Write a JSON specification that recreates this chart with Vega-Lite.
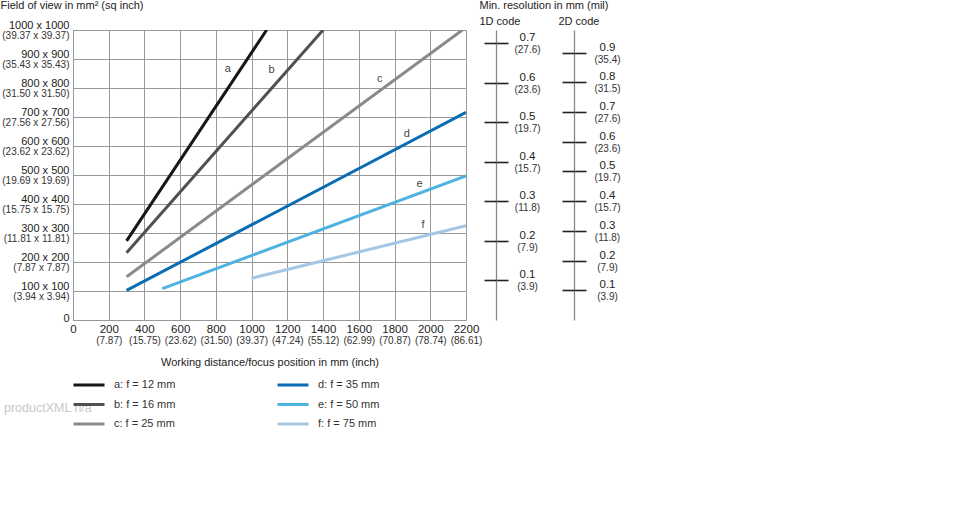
{
  "$schema": "https://vega.github.io/schema/vega-lite/v6.json",
  "width": 393,
  "height": 290,
  "autosize": {"type": "none"},
  "padding": {"left": 73, "top": 30, "right": 504, "bottom": 200},
  "background": "white",
  "config": {
    "font": "Liberation Sans",
    "view": {"stroke": "#999"},
    "axis": {"labelFont": "Liberation Sans", "titleFont": "Liberation Sans", "titleFontWeight": "normal", "labelColor": "#222", "titleColor": "#222", "labelOverlap": false, "labelFlush": false},
    "legend": {"labelFont": "Liberation Sans"}
  },
  "datasets": {
    "lines": [
      {"series": "a: f = 12 mm", "wd": 300, "fov": 273},
      {"series": "a: f = 12 mm", "wd": 1084, "fov": 1000},
      {"series": "b: f = 16 mm", "wd": 300, "fov": 232},
      {"series": "b: f = 16 mm", "wd": 1400, "fov": 1000},
      {"series": "c: f = 25 mm", "wd": 300, "fov": 149},
      {"series": "c: f = 25 mm", "wd": 2180, "fov": 1000},
      {"series": "d: f = 35 mm", "wd": 300, "fov": 102},
      {"series": "d: f = 35 mm", "wd": 2200, "fov": 716},
      {"series": "e: f = 50 mm", "wd": 500, "fov": 108},
      {"series": "e: f = 50 mm", "wd": 2200, "fov": 497},
      {"series": "f: f = 75 mm", "wd": 1000, "fov": 144},
      {"series": "f: f = 75 mm", "wd": 2200, "fov": 325}
    ],
    "letters": [
      {"letter": "a", "wd": 866, "fov": 866},
      {"letter": "b", "wd": 1112, "fov": 862},
      {"letter": "c", "wd": 1717, "fov": 830},
      {"letter": "d", "wd": 1868, "fov": 641},
      {"letter": "e", "wd": 1940, "fov": 469},
      {"letter": "f", "wd": 1960, "fov": 326}
    ],
    "res1D": [{"res": 0.1}, {"res": 0.2}, {"res": 0.3}, {"res": 0.4}, {"res": 0.5}, {"res": 0.6}, {"res": 0.7}],
    "res2D": [{"res": 0.1}, {"res": 0.2}, {"res": 0.3}, {"res": 0.4}, {"res": 0.5}, {"res": 0.6}, {"res": 0.7}, {"res": 0.8}, {"res": 0.9}],
    "notes": [{"note": "productXML n/a"}]
  },
  "layer": [
    {
      "data": {"name": "lines"},
      "mark": {"type": "line", "strokeWidth": 3, "clip": true},
      "encoding": {
        "x": {"field": "wd", "type": "quantitative", "scale": {"domain": [0, 2200], "nice": false},
          "axis": {"orient": "bottom", "values": [0, 200, 400, 600, 800, 1000, 1200, 1400, 1600, 1800, 2000, 2200], "grid": true, "gridColor": "#999", "gridWidth": 1, "domainColor": "#999", "ticks": false, "labelOverlap": false, "labelFlush": false, "format": "d", "labelFontSize": 11.5, "labelBaseline": "top", "labelPadding": 3, "title": "Working distance/focus position in mm (inch)", "titleFontSize": 11, "titleY": 42, "titleBaseline": "middle"}},
        "y": {"field": "fov", "type": "quantitative", "scale": {"domain": [0, 1000], "nice": false},
          "axis": {"orient": "left", "values": [0, 100, 200, 300, 400, 500, 600, 700, 800, 900, 1000], "grid": true, "gridColor": "#999", "gridWidth": 1, "domainColor": "#999", "ticks": false, "labelOverlap": false, "labelPadding": 4, "labelFontSize": 11, "labelOffset": -1.5, "labelExpr": "datum.value == 0 ? '0' : datum.value + ' x ' + datum.value", "labelBaseline": {"condition": {"test": "datum.value == 0", "value": "middle"}, "value": "alphabetic"}, "title": "Field of view in mm² (sq inch)", "titleAngle": 0, "titleAlign": "left", "titleBaseline": "middle", "titleX": -73, "titleY": -25, "titleFontSize": 11}},
        "color": {"field": "series", "type": "nominal",
          "scale": {"domain": ["a: f = 12 mm", "b: f = 16 mm", "c: f = 25 mm", "d: f = 35 mm", "e: f = 50 mm", "f: f = 75 mm"],
                    "range": ["#161616", "#505050", "#8a8a8a", "#0a6db3", "#4fb3df", "#a5c7e3"]},
          "legend": {"orient": "none", "legendX": -1, "legendY": 346, "columns": 2, "title": null, "symbolType": "stroke", "symbolSize": 961, "symbolStrokeWidth": 3, "labelFontSize": 11, "labelColor": "#333", "labelOffset": 8, "columnPadding": 100, "rowPadding": 1.5, "clipHeight": 18}}
      }
    },
    {
      "data": {"name": "letters"},
      "mark": {"type": "text", "fontSize": 11, "color": "#444", "align": "center", "baseline": "middle"},
      "encoding": {
        "x": {"field": "wd", "type": "quantitative", "scale": {"domain": [0, 2200], "nice": false}, "axis": null},
        "y": {"field": "fov", "type": "quantitative", "scale": {"domain": [0, 1000], "nice": false}, "axis": null},
        "text": {"field": "letter"}
      }
    },
    {
      "data": {"name": "lines"},
      "mark": {"type": "point", "opacity": 0},
      "encoding": {
        "x": {"field": "wd", "type": "quantitative", "scale": {"domain": [0, 2200], "nice": false},
          "axis": {"orient": "bottom", "values": [200, 400, 600, 800, 1000, 1200, 1400, 1600, 1800, 2000, 2200], "grid": false, "domain": false, "ticks": false, "labelOverlap": false, "labelFlush": false, "labelFontSize": 10, "labelBaseline": "top", "labelPadding": 15.5, "labelColor": "#333", "labelExpr": "'(' + format(datum.value / 25.4, '.2f') + ')'", "title": null}},
        "y": {"field": "fov", "type": "quantitative", "scale": {"domain": [0, 1000], "nice": false},
          "axis": {"orient": "left", "values": [100, 200, 300, 400, 500, 600, 700, 800, 900, 1000], "grid": false, "domain": false, "ticks": false, "labelOverlap": false, "labelFontSize": 10, "labelBaseline": "top", "labelPadding": 4, "labelOffset": 0.5, "labelColor": "#333", "labelExpr": "'(' + format(datum.value / 25.4, '.2f') + ' x ' + format(datum.value / 25.4, '.2f') + ')'", "title": null}}
      }
    },
    {
      "data": {"name": "res1D"},
      "mark": {"type": "point", "opacity": 0},
      "encoding": {
        "y": {"field": "res", "type": "quantitative", "scale": {"domain": [0, 0.7333], "nice": false, "zero": true},
          "axis": {"orient": "right", "offset": 30, "values": [0.1, 0.2, 0.3, 0.4, 0.5, 0.6, 0.7], "grid": false, "domain": true, "domainColor": "#888", "domainWidth": 1.3, "ticks": true, "tickSize": 12, "tickColor": "#222", "tickWidth": 1.6, "labelOverlap": false, "labelFontSize": 11.5, "labelAlign": "center", "labelBaseline": "alphabetic", "labelOffset": -2.5, "labelPadding": 19, "labelExpr": "format(datum.value, '.1f')", "title": "1D code", "titleAngle": 0, "titleAlign": "left", "titleBaseline": "middle", "titleX": -17, "titleY": -9, "titleFontSize": 11}}
      }
    },
    {
      "data": {"name": "res1D"},
      "mark": {"type": "point", "opacity": 0},
      "encoding": {
        "y": {"field": "res", "type": "quantitative", "scale": {"domain": [0, 0.7333], "nice": false, "zero": true},
          "axis": {"orient": "right", "offset": 30, "values": [0.1, 0.2, 0.3, 0.4, 0.5, 0.6, 0.7], "grid": false, "domain": false, "ticks": true, "tickSize": -12, "tickColor": "#222", "tickWidth": 1.6, "labels": false, "title": null}}
      }
    },
    {
      "data": {"name": "res1D"},
      "mark": {"type": "point", "opacity": 0},
      "encoding": {
        "y": {"field": "res", "type": "quantitative", "scale": {"domain": [0, 0.7333], "nice": false, "zero": true},
          "axis": {"orient": "right", "offset": 30, "values": [0.1, 0.2, 0.3, 0.4, 0.5, 0.6, 0.7], "grid": false, "domain": false, "ticks": true, "tickSize": 12, "tickOpacity": 0, "labelOverlap": false, "labelFontSize": 10, "labelColor": "#333", "labelAlign": "center", "labelBaseline": "top", "labelOffset": 1.5, "labelPadding": 19, "labelExpr": "'(' + format(datum.value / 0.0254, '.1f') + ')'", "title": "Min. resolution in mm (mil)", "titleAngle": 0, "titleAlign": "left", "titleBaseline": "middle", "titleX": -17, "titleY": -25, "titleFontSize": 11}}
      }
    },
    {
      "data": {"name": "res2D"},
      "mark": {"type": "point", "opacity": 0},
      "encoding": {
        "y": {"field": "res", "type": "quantitative", "scale": {"domain": [0, 0.976], "nice": false, "zero": true},
          "axis": {"orient": "right", "offset": 108, "values": [0.1, 0.2, 0.3, 0.4, 0.5, 0.6, 0.7, 0.8, 0.9], "grid": false, "domain": true, "domainColor": "#888", "domainWidth": 1.3, "ticks": true, "tickSize": 12, "tickColor": "#222", "tickWidth": 1.6, "labelOverlap": false, "labelFontSize": 11.5, "labelAlign": "center", "labelBaseline": "alphabetic", "labelOffset": -2.5, "labelPadding": 21, "labelExpr": "format(datum.value, '.1f')", "title": "2D code", "titleAngle": 0, "titleAlign": "left", "titleBaseline": "middle", "titleX": -16, "titleY": -9, "titleFontSize": 11}}
      }
    },
    {
      "data": {"name": "res2D"},
      "mark": {"type": "point", "opacity": 0},
      "encoding": {
        "y": {"field": "res", "type": "quantitative", "scale": {"domain": [0, 0.976], "nice": false, "zero": true},
          "axis": {"orient": "right", "offset": 108, "values": [0.1, 0.2, 0.3, 0.4, 0.5, 0.6, 0.7, 0.8, 0.9], "grid": false, "domain": false, "ticks": true, "tickSize": -12, "tickColor": "#222", "tickWidth": 1.6, "labels": false, "title": null}}
      }
    },
    {
      "data": {"name": "res2D"},
      "mark": {"type": "point", "opacity": 0},
      "encoding": {
        "y": {"field": "res", "type": "quantitative", "scale": {"domain": [0, 0.976], "nice": false, "zero": true},
          "axis": {"orient": "right", "offset": 108, "values": [0.1, 0.2, 0.3, 0.4, 0.5, 0.6, 0.7, 0.8, 0.9], "grid": false, "domain": false, "ticks": true, "tickSize": 12, "tickOpacity": 0, "labelOverlap": false, "labelFontSize": 10, "labelColor": "#333", "labelAlign": "center", "labelBaseline": "top", "labelOffset": 1.5, "labelPadding": 21, "labelExpr": "'(' + format(datum.value / 0.0254, '.1f') + ')'", "title": null}}
      }
    },
    {
      "mark": {"type": "point", "shape": "triangle-up", "filled": true, "color": "#111", "size": 45, "opacity": 1},
      "encoding": {
        "x": {"datum": 2366, "type": "quantitative", "scale": {"domain": [0, 2200], "nice": false}, "axis": null},
        "y": {"datum": 0.72, "type": "quantitative", "scale": {"domain": [0, 0.7333], "nice": false}, "axis": null}
      }
    },
    {
      "mark": {"type": "point", "shape": "triangle-up", "filled": true, "color": "#111", "size": 45, "opacity": 1},
      "encoding": {
        "x": {"datum": 2806, "type": "quantitative", "scale": {"domain": [0, 2200], "nice": false}, "axis": null},
        "y": {"datum": 0.959, "type": "quantitative", "scale": {"domain": [0, 0.976], "nice": false}, "axis": null}
      }
    },
    {
      "data": {"name": "notes"},
      "mark": {"type": "text", "align": "left", "baseline": "middle", "fontSize": 12.5, "color": "#c8c8c8", "dx": -69, "dy": 88},
      "encoding": {
        "x": {"datum": 0, "type": "quantitative", "scale": {"domain": [0, 2200], "nice": false}, "axis": null},
        "y": {"datum": 0, "type": "quantitative", "scale": {"domain": [0, 1000], "nice": false}, "axis": null},
        "text": {"field": "note"}
      }
    }
  ],
  "resolve": {
    "scale": {"x": "independent", "y": "independent", "color": "independent"},
    "axis": {"x": "independent", "y": "independent"}
  }
}
